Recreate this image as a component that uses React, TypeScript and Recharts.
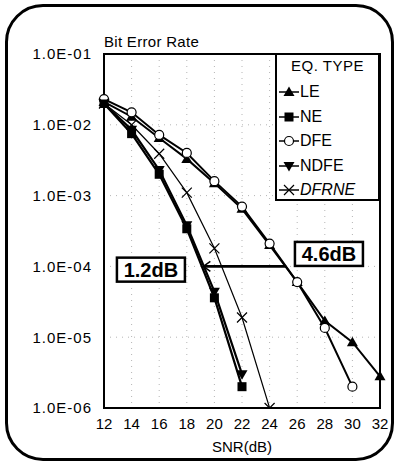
import React from 'react';
import {
  LineChart,
  Line,
  XAxis,
  YAxis,
  CartesianGrid,
  ReferenceArea,
  ReferenceLine,
  ReferenceDot,
} from 'recharts';

// SNR (dB) points and bit error rates
const snrLE = [12, 14, 16, 18, 20, 22, 24, 26, 28, 30, 32];
const berLE = [2.1e-2, 1.3e-2, 6.5e-3, 3.3e-3, 1.5e-3, 6.5e-4, 2e-4, 6e-5, 1.7e-5, 8.5e-6, 2.8e-6];

const snrNE = [12, 14, 16, 18, 20, 22];
const berNE = [2e-2, 7.5e-3, 2e-3, 3.4e-4, 3.6e-5, 2e-6];

const snrDFE = [12, 14, 16, 18, 20, 22, 24, 26, 28, 30];
const berDFE = [2.3e-2, 1.5e-2, 7.2e-3, 4e-3, 1.6e-3, 7e-4, 2.1e-4, 6e-5, 1.35e-5, 2e-6];

const snrNDFE = [12, 14, 16, 18, 20, 22];
const berNDFE = [2e-2, 8.5e-3, 2.3e-3, 3.8e-4, 4.4e-5, 3e-6];

const snrDFRNE = [12, 14, 16, 18, 20, 22, 24];
const berDFRNE = [2e-2, 1e-2, 3.9e-3, 1.1e-3, 1.8e-4, 1.9e-5, 1e-6];

const xTicks = [12, 14, 16, 18, 20, 22, 24, 26, 28, 30, 32];
const yTicks = [1e-1, 1e-2, 1e-3, 1e-4, 1e-5, 1e-6];

const toRows = (xs: number[], ys: number[]) => xs.map((x, i) => ({ snr: x, ber: ys[i] }));

const FONT = 'Liberation Sans, Arial, sans-serif';

type Marker = 'triUp' | 'square' | 'circle' | 'triDown' | 'cross';

const drawMarker = (kind: Marker, cx: number, cy: number, key?: string) => {
  switch (kind) {
    case 'triUp':
      return <path key={key} d={`M${cx},${cy - 5.5} L${cx + 5.5},${cy + 4} L${cx - 5.5},${cy + 4} Z`} fill="#000" />;
    case 'triDown':
      return <path key={key} d={`M${cx},${cy + 5.5} L${cx + 5.5},${cy - 4} L${cx - 5.5},${cy - 4} Z`} fill="#000" />;
    case 'square':
      return <rect key={key} x={cx - 4.5} y={cy - 4.5} width={9} height={9} fill="#000" />;
    case 'circle':
      return <circle key={key} cx={cx} cy={cy} r={4.5} fill="#fff" stroke="#000" strokeWidth={1.2} />;
    case 'cross':
    default:
      return (
        <path
          key={key}
          d={`M${cx - 5},${cy - 5} L${cx + 5},${cy + 5} M${cx - 5},${cy + 5} L${cx + 5},${cy - 5}`}
          stroke="#000"
          strokeWidth={1.2}
        />
      );
  }
};

const series: { name: string; xs: number[]; ys: number[]; marker: Marker; width: number }[] = [
  { name: 'LE', xs: snrLE, ys: berLE, marker: 'triUp', width: 2 },
  { name: 'NE', xs: snrNE, ys: berNE, marker: 'square', width: 2.2 },
  { name: 'DFE', xs: snrDFE, ys: berDFE, marker: 'circle', width: 2 },
  { name: 'NDFE', xs: snrNDFE, ys: berNDFE, marker: 'triDown', width: 2.2 },
  { name: 'DFRNE', xs: snrDFRNE, ys: berDFRNE, marker: 'cross', width: 1.2 },
];

const fmtExp = (v: number) => {
  const e = Math.round(Math.log10(v));
  return `1.0E-${String(Math.abs(e)).padStart(2, '0')}`;
};

// legend drawn as html on top of the plot, recharts Legend would eat chart space
const LegendBox = () => (
  <div
    style={{
      position: 'absolute',
      left: 275,
      top: 53,
      width: 101,
      height: 144,
      border: '2px solid #000',
      background: '#fff',
      fontFamily: FONT,
      color: '#000',
    }}
  >
    <div style={{ fontSize: 15, textAlign: 'center', marginTop: 2, height: 23, letterSpacing: 0.5 }}>EQ. TYPE</div>
    {series.map((s, i) => (
      <div key={s.name} style={{ display: 'flex', alignItems: 'center', height: 24.5 }}>
        <svg width={22} height={16} style={{ marginLeft: 1 }}>
          <line x1={1} y1={8} x2={21} y2={8} stroke="#000" strokeWidth={1.5} />
          {drawMarker(s.marker, 11, 8, 'm' + i)}
        </svg>
        <span style={{ fontSize: 16, fontStyle: s.name === 'DFRNE' ? 'italic' : 'normal' }}>{s.name}</span>
      </div>
    ))}
  </div>
);

const ArrowShape = (props: any) => {
  const { x1, y1, x2 } = props;
  return (
    <g>
      <line x1={x1} y1={y1} x2={x2} y2={y1} stroke="#000" strokeWidth={2.6} />
      <path d={`M${x1},${y1} L${x1 + 7},${y1 - 5} M${x1},${y1} L${x1 + 7},${y1 + 5}`} stroke="#000" strokeWidth={1.5} />
    </g>
  );
};

const boxLabel = (text: string) => (props: any) => {
  const { cx, cy } = props;
  return (
    <g>
      <rect x={cx - 34} y={cy - 12} width={68} height={24} fill="#fff" stroke="#000" strokeWidth={2.5} />
      <text x={cx} y={cy + 7} textAnchor="middle" fontFamily={FONT} fontWeight="bold" fontSize={20} fill="#000">
        {text}
      </text>
    </g>
  );
};

export default function App() {
  return (
    <div style={{ position: 'absolute', left: 0, top: 0, width: 398, height: 466, background: '#fff', fontFamily: FONT }}>
      <div
        style={{
          position: 'absolute',
          left: 5,
          top: 4,
          width: 383,
          height: 451,
          border: '3px solid #000',
          borderRadius: 38,
        }}
      />
      <div style={{ position: 'absolute', left: 104, top: 33, fontSize: 15, color: '#000', letterSpacing: 0.3 }}>
        Bit Error Rate
      </div>
      <div style={{ position: 'absolute', left: 0, top: 0 }}>
        <LineChart width={398} height={466} margin={{ top: 54, right: 18, bottom: 28, left: 8 }}>
          <CartesianGrid stroke="#b5b5b5" strokeDasharray="1 5" />
          <XAxis
            type="number"
            dataKey="snr"
            domain={[12, 32]}
            ticks={xTicks}
            interval={0}
            allowDuplicatedCategory={false}
            height={30}
            axisLine={{ stroke: '#000', strokeWidth: 2 }}
            tickLine={false}
            tickMargin={4}
            tick={{ fill: '#000', fontSize: 15, fontFamily: FONT }}
            label={{ value: 'SNR(dB)', position: 'insideBottom', offset: -14, fill: '#000', fontSize: 15, fontFamily: FONT }}
          />
          <YAxis
            type="number"
            scale="log"
            domain={[1e-6, 1e-1]}
            ticks={yTicks}
            interval={0}
            allowDataOverflow
            width={96}
            axisLine={{ stroke: '#000', strokeWidth: 2 }}
            tickLine={false}
            tickMargin={6}
            tickFormatter={fmtExp}
            tick={{ fill: '#000', fontSize: 15, fontFamily: FONT, letterSpacing: 1 }}
          />
          <ReferenceArea x1={12} x2={32} y1={1e-6} y2={1e-1} fill="none" stroke="#000" strokeWidth={2} />
          {series.map((s) => (
            <Line
              key={s.name}
              name={s.name}
              data={toRows(s.xs, s.ys)}
              dataKey="ber"
              stroke="#000"
              strokeWidth={s.width}
              isAnimationActive={false}
              dot={(p: any) => drawMarker(s.marker, p.cx, p.cy, `${s.name}-${p.index}`)}
              activeDot={false}
            />
          ))}
          <ReferenceLine
            segment={[
              { x: 19.2, y: 1e-4 },
              { x: 25.2, y: 1e-4 },
            ]}
            shape={ArrowShape}
          />
          <ReferenceDot x={15.4} y={9e-5} r={0} shape={boxLabel('1.2dB')} />
          <ReferenceDot x={28.3} y={1.5e-4} r={0} shape={boxLabel('4.6dB')} />
        </LineChart>
      </div>
      <LegendBox />
    </div>
  );
}
